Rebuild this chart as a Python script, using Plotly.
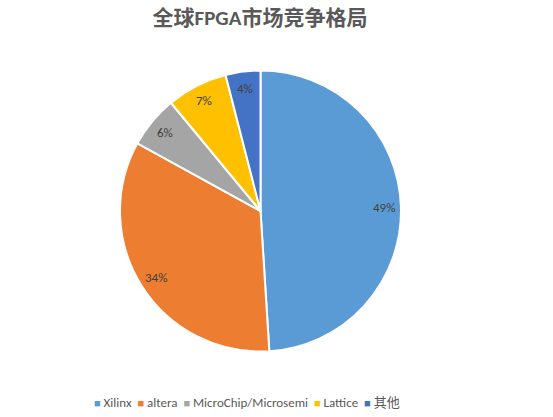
import math
import plotly.graph_objects as go

# vendor shares (percent)
vendors = ["Xilinx", "altera", "MicroChip/Microsemi", "Lattice", "其他"]
shares = [49, 34, 6, 7, 4]
colors = ["#5B9BD5", "#ED7D31", "#A5A5A5", "#FFC000", "#4472C4"]

W, H = 553, 417
FONT = "Calibri, Carlito, 'Liberation Sans', 'Noto Sans CJK SC', sans-serif"


def fx(px):
    return px / W


def fy(py):
    return 1 - py / H


# pie placement in pixels
px_left, px_right, px_top, px_bot = 120, 401, 70, 352
dom_x = [fx(px_left), fx(px_right)]
dom_y = [fy(px_bot), fy(px_top)]

fig = go.Figure(go.Pie(
    labels=vendors,
    values=shares,
    sort=False,
    direction="clockwise",
    rotation=0,
    marker=dict(colors=colors, line=dict(color="white", width=2)),
    textinfo="none",
    hoverinfo="label+percent",
    domain=dict(x=dom_x, y=dom_y),
    showlegend=False,
))

# data labels, placed the way Excel does (near the rim)
cx = (px_left + px_right) / 2
cy = (px_top + px_bot) / 2
r = (px_right - px_left) / 2
k = 0.88
total = sum(shares)
acc = 0
annotations = []
for v in shares:
    mid = (acc + v / 2) / total * 2 * math.pi
    acc += v
    x = cx + k * r * math.sin(mid)
    y = cy - k * r * math.cos(mid)
    annotations.append(dict(
        x=fx(x), y=fy(y), xref="paper", yref="paper",
        xanchor="center", yanchor="middle",
        text=f"{round(v / total * 100)}%", showarrow=False,
        font=dict(size=13, color="#404040", family=FONT),
    ))

# compact Excel-style legend as one line of text
legend_txt = "  ".join(
    f"<span style='color:{c};font-size:11px'>■</span> {name}"
    for name, c in zip(vendors, colors)
)
annotations.append(dict(
    x=fx(247), y=fy(402), xref="paper", yref="paper",
    xanchor="center", yanchor="middle", showarrow=False,
    text=legend_txt,
    font=dict(size=13, color="#595959", family=FONT),
))

fig.update_layout(
    width=W, height=H,
    margin=dict(l=0, r=0, t=0, b=0),
    paper_bgcolor="white",
    plot_bgcolor="white",
    title=dict(
        text="<b>全球FPGA市场竞争格局</b>",
        x=fx(260), xanchor="center", y=fy(18), yanchor="middle",
        font=dict(size=21, color="#595959", family=FONT),
    ),
    annotations=annotations,
)

# drop the default page margin so the figure sits at the window corner
fig.write_html(
    "out.html",
    config={"displayModeBar": False},
    post_script="document.body.style.margin='0';",
)
